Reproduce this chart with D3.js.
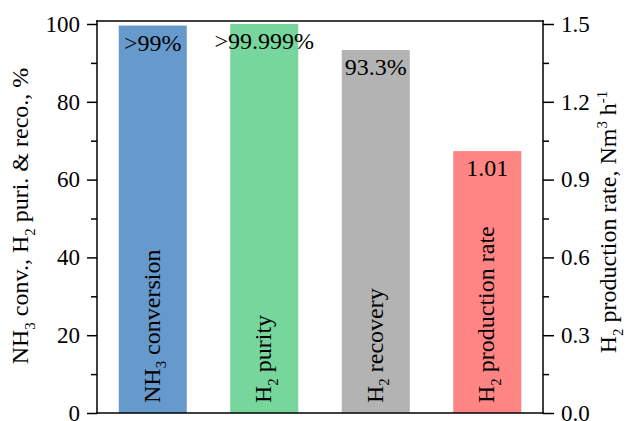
<!DOCTYPE html>
<html><head><meta charset="utf-8">
<script src="https://cdn.jsdelivr.net/npm/d3@7"></script>
<style>
html,body{margin:0;padding:0;background:#fff;}
text{font-family:"Liberation Serif","Times New Roman",serif;fill:#000;}
</style></head>
<body>
<svg id="chart" width="630" height="421"></svg>
<script>
// ---- data ----
const categories = ["NH_3 conversion", "H_2 purity", "H_2 recovery", "H_2 production rate"];
const values = [99.6, 99.999, 93.3, 1.01];
const valueAxis = ["left", "left", "left", "right"];
const valueLabels = [">99%", ">99.999%", "93.3%", "1.01"];
const leftTicks = [0, 20, 40, 60, 80, 100];
const leftMinorTicks = [10, 30, 50, 70, 90];
const rightTicks = [0.0, 0.3, 0.6, 0.9, 1.2, 1.5];
const rightMinorTicks = [0.15, 0.45, 0.75, 1.05, 1.35];
const leftTitle = "NH_3 conv., H_2 puri. & reco., %";
const rightTitle = "H_2 production rate, Nm^3 h^{-1}";

// ---- styles ----
const colors = ["#6699CC", "#77D69B", "#B3B3B3", "#FF8585"];

const svg = d3.select("#chart");
const L = 97, R = 543, T = 21, B = 413;
const x = d3.scaleBand().domain(categories).range([L, R]).paddingInner(0.39).paddingOuter(0.195);
const yL = d3.scaleLinear().domain([0, 100]).range([B, 24]);
const yR = d3.scaleLinear().domain([0, 1.5]).range([B, 24]);
const yOf = i => valueAxis[i] === "left" ? yL(values[i]) : yR(values[i]);

// rich text helper: _x or _{..} subscript, ^x or ^{..} superscript
function rich(sel, str, size) {
  const re = /([_^])(\{([^}]*)\}|(\S))/g;
  let last = 0, m;
  const parts = [];
  while ((m = re.exec(str)) !== null) {
    if (m.index > last) parts.push({t: str.slice(last, m.index), k: ""});
    parts.push({t: m[3] !== undefined ? m[3] : m[4], k: m[1]});
    last = re.lastIndex;
  }
  if (last < str.length) parts.push({t: str.slice(last), k: ""});
  let shift = 0;
  parts.forEach(p => {
    const ts = sel.append("tspan").text(p.t);
    let target = 0;
    if (p.k === "_") target = size * 0.28;
    if (p.k === "^") target = -size * 0.38;
    const dy = target - shift;
    if (dy !== 0) ts.attr("dy", dy);
    shift = target;
    if (p.k) ts.attr("font-size", size * 0.62);
  });
}

// bars
svg.selectAll("rect.bar").data(categories).join("rect")
  .attr("class", "bar")
  .attr("x", d => x(d))
  .attr("width", x.bandwidth())
  .attr("y", (d, i) => yOf(i))
  .attr("height", (d, i) => B - yOf(i))
  .attr("fill", (d, i) => colors[i]);

// value labels
svg.selectAll("text.val").data(valueLabels).join("text")
  .attr("class", "val")
  .attr("x", (d, i) => x(categories[i]) + x.bandwidth() / 2)
  .attr("y", (d, i) => yOf(i) + 25)
  .attr("text-anchor", "middle")
  .attr("font-size", 24)
  .text(d => d);

// category labels, rotated inside bars
categories.forEach((c, i) => {
  const cx = x(c) + x.bandwidth() / 2 + 7;
  const t = svg.append("text")
    .attr("transform", `translate(${cx},403) rotate(-90)`)
    .attr("font-size", 24);
  rich(t, c, 24);
});

// frame
const frame = (x1, y1, x2, y2) => svg.append("line").attr("x1", x1).attr("y1", y1).attr("x2", x2).attr("y2", y2)
  .attr("stroke", "#000").attr("stroke-width", 1.5).attr("stroke-linecap", "square");
frame(L, T, R, T);
frame(L, B, R, B);

// left axis
const gL = svg.append("g").attr("transform", `translate(${L},0)`)
  .call(d3.axisLeft(yL).tickValues(leftTicks).tickSize(10).tickPadding(7).tickFormat(d3.format("d")));
const gLm = svg.append("g").attr("transform", `translate(${L},0)`)
  .call(d3.axisLeft(yL).tickValues(leftMinorTicks).tickSize(6).tickFormat(""));
// right axis
const gR = svg.append("g").attr("transform", `translate(${R},0)`)
  .call(d3.axisRight(yR).tickValues(rightTicks).tickSize(11).tickPadding(7).tickFormat(d3.format(".1f")));
const gRm = svg.append("g").attr("transform", `translate(${R},0)`)
  .call(d3.axisRight(yR).tickValues(rightMinorTicks).tickSize(6).tickFormat(""));

[gL, gLm, gR, gRm].forEach(g => {
  g.selectAll(".domain").remove();
  g.selectAll("line").attr("stroke", "#000").attr("stroke-width", 1.5);
  g.selectAll("text").attr("font-size", 23).attr("font-family", '"Liberation Serif","Times New Roman",serif').attr("fill", "#000");
});
frame(L, T, L, B);
frame(R, T, R, B);

// axis titles
const tl = svg.append("text").attr("transform", "translate(28,216) rotate(-90)").attr("text-anchor", "middle").attr("font-size", 24);
rich(tl, leftTitle, 24);
const tr = svg.append("text").attr("transform", "translate(616,222) rotate(-90)").attr("text-anchor", "middle").attr("font-size", 24);
rich(tr, rightTitle, 24);
</script>
</body></html>
